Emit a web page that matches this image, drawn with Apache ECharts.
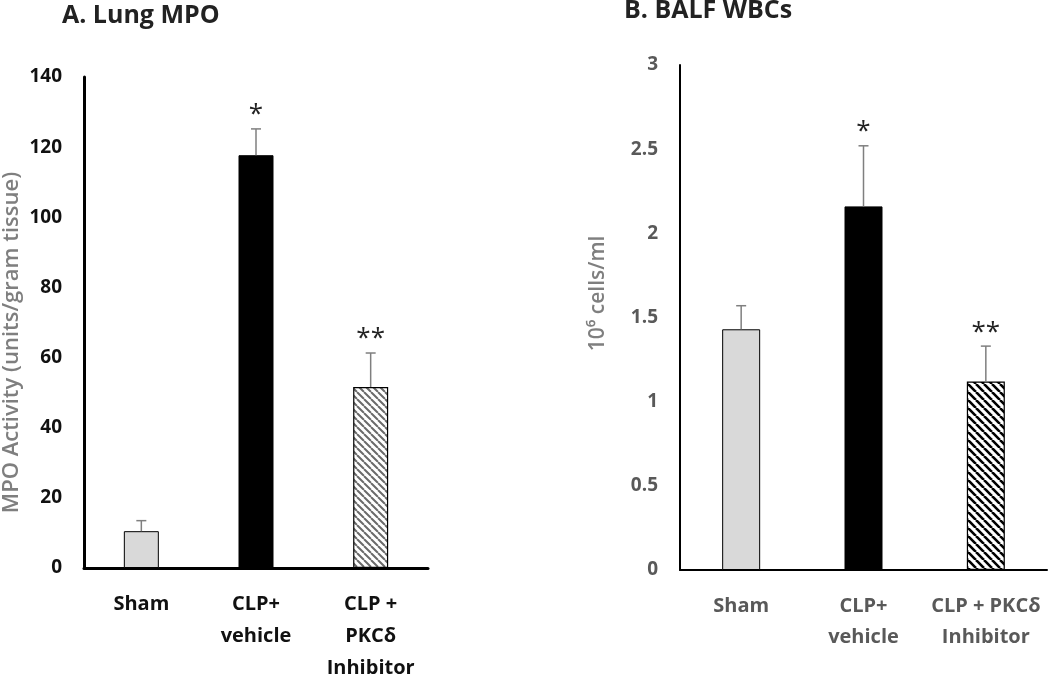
<!DOCTYPE html>
<html>
<head>
    <meta charset="utf-8">
    <title>Lung MPO / BALF WBCs</title>
    <script src="https://cdn.jsdelivr.net/npm/echarts@6/dist/echarts.min.js"></script>
    <style>
        html, body { margin: 0; padding: 0; background: #fff; }
        #main { width: 1050px; height: 680px; }
    </style>
</head>
<body>
    <div id="main"></div>
    <script>
        // groups
        var categoriesA = ['Sham', 'CLP+\nvehicle', 'CLP +\nPKCδ\nInhibitor'];
        var categoriesB = ['Sham', 'CLP+\nvehicle', 'CLP + PKCδ\nInhibitor'];
        // panel A: lung MPO (units/gram tissue)
        var mpoMean = [10.5, 117.7, 51.6];
        var mpoErr = [13.5, 125.2, 61.3];
        // panel B: BALF WBCs (10^6 cells/ml)
        var wbcMean = [1.43, 2.16, 1.12];
        var wbcErr = [1.57, 2.52, 1.33];
        // significance marks
        var sigMarks = ['', '*', '**'];

        var FONT = '"Open Sans", Lato, sans-serif';

        // diagonal hatch (\\\) pattern
        function hatch(lineColor, lineWidth, step) {
            var c = document.createElement('canvas');
            c.width = step; c.height = step;
            var ctx = c.getContext('2d');
            ctx.fillStyle = '#fff';
            ctx.fillRect(0, 0, step, step);
            ctx.strokeStyle = lineColor;
            ctx.lineWidth = lineWidth;
            ctx.beginPath();
            for (var k = -1; k <= 1; k++) {
                ctx.moveTo(k * step, 0);
                ctx.lineTo(k * step + step, step);
            }
            ctx.stroke();
            return { image: c, repeat: 'repeat' };
        }

        function barData(vals, hatchFill) {
            return vals.map(function (v, i) {
                var st;
                if (i === 0) st = { color: '#d9d9d9', borderColor: '#000', borderWidth: 1 };
                else if (i === 1) st = { color: '#000', borderColor: '#000', borderWidth: 1 };
                else st = { color: hatchFill, borderColor: '#000', borderWidth: 1.2 };
                return { value: v, itemStyle: st };
            });
        }

        function errData(means, errs) {
            return means.map(function (m, i) { return [i, m, errs[i], sigMarks[i]]; });
        }

        function renderErr(params, api) {
            var x = api.value(0);
            var top = api.coord([x, api.value(1)]);
            var cap = api.coord([x, api.value(2)]);
            var sig = api.value(3);
            var children = [
                { type: 'line', shape: { x1: top[0], y1: top[1], x2: cap[0], y2: cap[1] },
                  style: { stroke: '#7f7f7f', lineWidth: 1.5 } },
                { type: 'line', shape: { x1: cap[0] - 5, y1: cap[1], x2: cap[0] + 5, y2: cap[1] },
                  style: { stroke: '#7f7f7f', lineWidth: 1.5 } }
            ];
            if (sig) {
                children.push({ type: 'text', x: cap[0], y: cap[1] - 1,
                    style: { text: sig, align: 'center', verticalAlign: 'bottom',
                             font: '26px ' + FONT, fill: '#222' } });
            }
            return { type: 'group', children: children };
        }

        var myChart = echarts.init(document.getElementById('main'));
        var option = {
            animation: false,
            title: [
                { text: 'A. Lung MPO', left: 57, top: -2,
                  textStyle: { fontFamily: FONT, fontSize: 25, fontWeight: 'bold', color: '#222' } },
                { text: 'B. BALF WBCs', left: 619, top: -7,
                  textStyle: { fontFamily: FONT, fontSize: 25, fontWeight: 'bold', color: '#222' } }
            ],
            grid: [
                { left: 84, right: 622, top: 77, bottom: 112, outerBoundsMode: 'none' },
                { left: 680, right: 3, top: 65, bottom: 110, outerBoundsMode: 'none' }
            ],
            xAxis: [
                { type: 'category', gridIndex: 0, data: categoriesA,
                  axisLine: { lineStyle: { color: '#000', width: 3 } },
                  axisTick: { show: false },
                  axisLabel: { interval: 0, margin: 20, fontFamily: FONT, fontSize: 20, fontWeight: 'bold',
                               color: '#111', lineHeight: 32 } },
                { type: 'category', gridIndex: 1, data: categoriesB,
                  axisLine: { lineStyle: { color: '#000', width: 2 } },
                  axisTick: { show: false },
                  axisLabel: { interval: 0, margin: 21, fontFamily: FONT, fontSize: 20, fontWeight: 'bold',
                               color: '#595959', lineHeight: 31 } }
            ],
            yAxis: [
                { type: 'value', gridIndex: 0, min: 0, max: 140, interval: 20,
                  name: 'MPO Activity (units/gram tissue)', nameLocation: 'middle', nameGap: 61,
                  nameTextStyle: { fontFamily: FONT, fontSize: 22, fontWeight: 600, color: '#7f7f7f',
                                   padding: [0, 40, 0, 0] },
                  axisLine: { show: true, lineStyle: { color: '#000', width: 3 } },
                  axisTick: { show: false }, splitLine: { show: false },
                  axisLabel: { margin: 22, fontFamily: FONT, fontSize: 19, fontWeight: 'bold', color: '#111' } },
                { type: 'value', gridIndex: 1, min: 0, max: 3, interval: 0.5,
                  name: '10⁶ cells/ml', nameLocation: 'middle', nameGap: 71,
                  nameTextStyle: { fontFamily: FONT, fontSize: 21, fontWeight: 600, color: '#7f7f7f',
                                   padding: [0, 0, 0, 48] },
                  axisLine: { show: true, lineStyle: { color: '#000', width: 2 } },
                  axisTick: { show: false }, splitLine: { show: false },
                  axisLabel: { margin: 22, fontFamily: FONT, fontSize: 19, fontWeight: 'bold', color: '#595959' } }
            ],
            series: [
                { type: 'bar', xAxisIndex: 0, yAxisIndex: 0, barWidth: 35, z: 2,
                  data: barData(mpoMean, hatch('#6b6b6b', 2, 7)) },
                { type: 'custom', xAxisIndex: 0, yAxisIndex: 0, z: 3,
                  renderItem: renderErr, data: errData(mpoMean, mpoErr) },
                { type: 'bar', xAxisIndex: 1, yAxisIndex: 1, barWidth: 38, z: 2,
                  data: barData(wbcMean, hatch('#000', 2.6, 8)) },
                { type: 'custom', xAxisIndex: 1, yAxisIndex: 1, z: 3,
                  renderItem: renderErr, data: errData(wbcMean, wbcErr) }
            ]
        };
        myChart.setOption(option);
    </script>
</body>
</html>
